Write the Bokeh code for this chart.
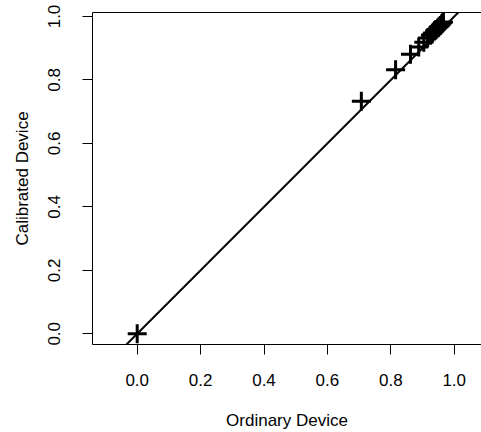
from bokeh.plotting import figure
from bokeh.models import ColumnDataSource, Slope, LinearAxis, FixedTicker, Range1d
from bokeh.embed import file_html
from bokeh.resources import INLINE

# data
ordinary = [0.0, 0.707, 0.815, 0.862, 0.888, 0.904, 0.916, 0.925, 0.932, 0.938,
            0.943, 0.948, 0.952, 0.956, 0.960, 0.963, 0.966]
calibrated = [0.0, 0.733, 0.832, 0.881, 0.904, 0.919, 0.932, 0.941, 0.948, 0.954,
              0.959, 0.964, 0.968, 0.972, 0.976, 0.980, 0.983]
tick_values = [0.0, 0.2, 0.4, 0.6, 0.8, 1.0]
tick_labels = ["0.0", "0.2", "0.4", "0.6", "0.8", "1.0"]

FONT = "Liberation Sans"
FS = "17px"

p = figure(width=481, height=432, output_backend="svg", toolbar_location=None,
           x_range=Range1d(-0.141, 1.086), y_range=Range1d(-0.0338, 1.0126),
           min_border_left=92, min_border_right=0, min_border_top=12,
           min_border_bottom=88, background_fill_color="white",
           border_fill_color="white")
p.outline_line_color = None
p.grid.visible = False

src = ColumnDataSource(dict(x=ordinary, y=calibrated))
p.add_layout(Slope(gradient=1, y_intercept=0, line_color="black", line_width=2))
p.scatter("x", "y", source=src, marker="cross", size=19, line_width=3,
          line_color="black")

for ax in (p.xaxis[0], p.yaxis[0]):
    ax.ticker = FixedTicker(ticks=tick_values)
    ax.major_label_overrides = {v: l for v, l in zip(tick_values, tick_labels)}
    ax.minor_tick_out = 0
    ax.minor_tick_in = 0
    ax.major_tick_in = 0
    ax.major_tick_out = 10
    ax.major_tick_line_color = "black"
    ax.axis_line_color = "black"
    ax.major_label_text_font = FONT
    ax.major_label_text_font_size = FS
    ax.major_label_text_color = "black"
    ax.axis_label_text_font = FONT
    ax.axis_label_text_font_size = FS
    ax.axis_label_text_font_style = "normal"
    ax.axis_label_text_color = "black"

p.xaxis[0].axis_label = "Ordinary Device"
p.xaxis[0].major_label_standoff = 19
p.xaxis[0].axis_label_standoff = 22
p.yaxis[0].axis_label = "Calibrated Device"
p.yaxis[0].major_label_orientation = "vertical"
p.yaxis[0].major_label_standoff = 22
p.yaxis[0].axis_label_standoff = 14

top = LinearAxis(ticker=FixedTicker(ticks=[]), major_label_text_font_size="0px",
                 major_tick_out=0, minor_tick_out=0, axis_line_color="black")
p.add_layout(top, "above")

open("out.html", "w").write(file_html(p, INLINE))
